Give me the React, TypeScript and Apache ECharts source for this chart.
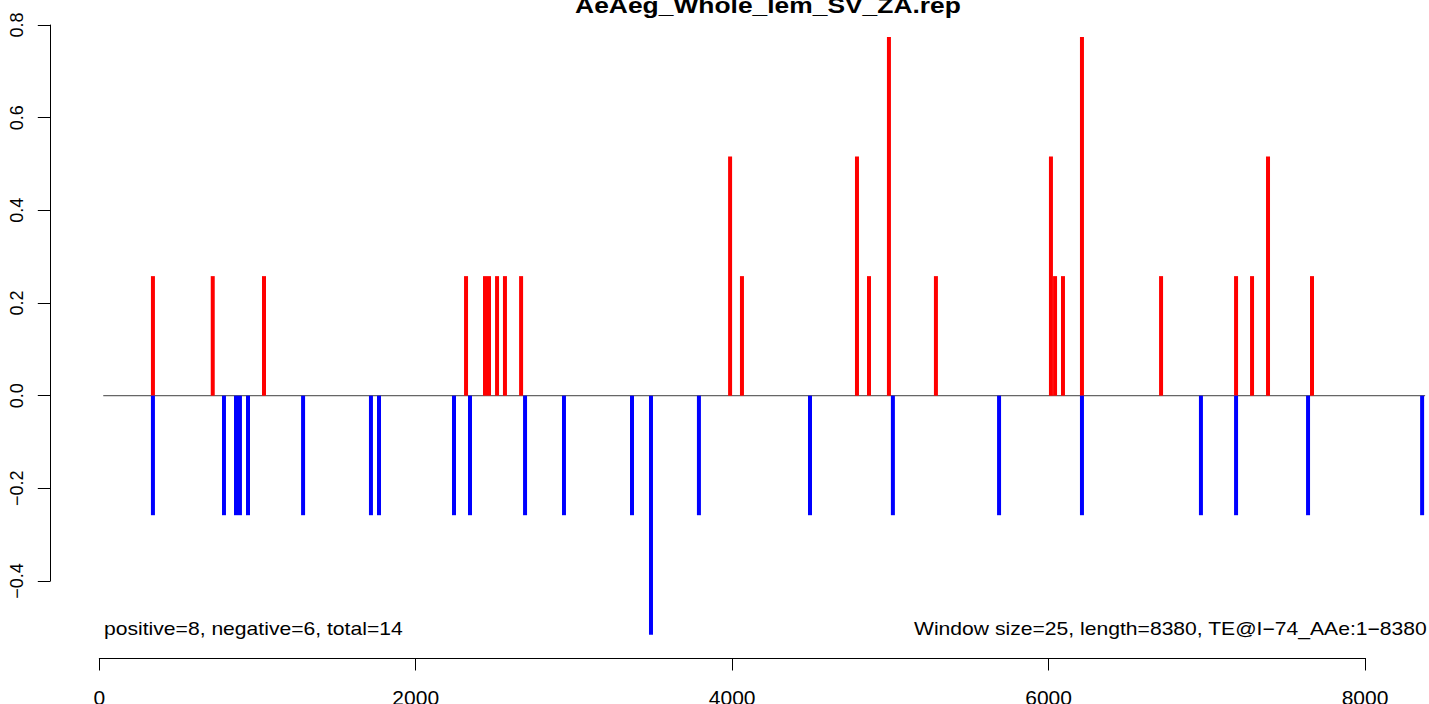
import React, { useEffect, useRef } from "react";
import * as echarts from "echarts";

const chartTitle = "AeAeg_Whole_lem_SV_ZA.rep";
const leftNote = "positive=8, negative=6, total=14";
const rightNote = "Window size=25, length=8380, TE@I\u221274_AAe:1\u22128380";

// window start / sequence length (zero line extent)
const lineStart = 25;
const seqLength = 8380;

// positive (red) windows
const posX = [339, 717, 1041, 2318, 2438, 2463, 2514, 2564, 2666, 3987, 4062, 4789, 4865, 4991, 5288, 6015, 6041, 6091, 6211, 6711, 7185, 7286, 7387, 7665];
const posY = [0.258, 0.258, 0.258, 0.258, 0.258, 0.258, 0.258, 0.258, 0.258, 0.516, 0.258, 0.516, 0.258, 0.774, 0.258, 0.516, 0.258, 0.258, 0.774, 0.258, 0.258, 0.258, 0.516, 0.258];

// negative (blue) windows
const negX = [339, 788, 864, 889, 940, 1288, 1717, 1768, 2242, 2343, 2691, 2937, 3367, 3487, 3790, 4492, 5016, 5687, 6211, 6963, 7185, 7640, 8361];
const negY = [-0.258, -0.258, -0.258, -0.258, -0.258, -0.258, -0.258, -0.258, -0.258, -0.258, -0.258, -0.258, -0.258, -0.516, -0.258, -0.258, -0.258, -0.258, -0.258, -0.258, -0.258, -0.258, -0.258];

const FONT = "'Liberation Sans', Arial, Helvetica, sans-serif";
const STRETCH = 1.174;

export default function App() {
  const ref = useRef<HTMLDivElement>(null);

  useEffect(() => {
    if (!ref.current) return;
    const chart = echarts.init(ref.current, null, { renderer: "svg" });

    const spike = (color: string) => (params: any, api: any) => {
      const x = api.value(0);
      const y = api.value(1);
      const p0 = api.coord([x, 0]);
      const p1 = api.coord([x, y]);
      return {
        type: "rect",
        shape: {
          x: p0[0] - 2,
          y: Math.min(p0[1], p1[1]),
          width: 4,
          height: Math.abs(p1[1] - p0[1]),
        },
        style: { fill: color },
      };
    };

    const zeroLine = (params: any, api: any) => {
      const a = api.coord([api.value(0), 0]);
      const b = api.coord([api.value(1), 0]);
      return {
        type: "line",
        shape: { x1: a[0], y1: a[1], x2: b[0], y2: b[1] },
        style: { stroke: "#666666", lineWidth: 1.2 },
      };
    };

    chart.setOption({
      animation: false,
      backgroundColor: "#ffffff",
      grid: {
        left: 99.3,
        top: 25,
        width: 1265.7,
        height: 556,
        containLabel: false,
        outerBoundsMode: "none",
      },
      xAxis: {
        type: "value",
        min: 0,
        max: 8000,
        interval: 2000,
        offset: 77,
        splitLine: { show: false },
        axisLine: { show: true, onZero: false, lineStyle: { color: "#000", width: 1 } },
        axisTick: { show: true, length: 12.5, lineStyle: { color: "#000", width: 1 } },
        axisLabel: {
          fontSize: 21,
          fontFamily: FONT,
          color: "#000",
          margin: 29,
          formatter: (v: number) => String(v),
        },
      },
      yAxis: {
        type: "value",
        min: -0.4,
        max: 0.8,
        interval: 0.2,
        offset: 49,
        splitLine: { show: false },
        axisLine: { show: true, onZero: false, lineStyle: { color: "#000", width: 1 } },
        axisTick: { show: true, length: 12.5, lineStyle: { color: "#000", width: 1 } },
        axisLabel: {
          fontSize: 18,
          fontFamily: FONT,
          color: "#000",
          rotate: 90,
          margin: 24,
          formatter: (v: number) => (v < -1e-9 ? "\u2212" : "") + Math.abs(v).toFixed(1),
        },
      },
      series: [
        {
          type: "custom",
          data: [[lineStart, seqLength]],
          renderItem: zeroLine,
          clip: false,
          silent: true,
          z: 1,
        },
        {
          type: "custom",
          data: posX.map((x, i) => [x, posY[i]]),
          renderItem: spike("#ff0000"),
          clip: false,
          z: 2,
        },
        {
          type: "custom",
          data: negX.map((x, i) => [x, negY[i]]),
          renderItem: spike("#0000ff"),
          clip: false,
          z: 2,
        },
      ],
      graphic: [
        {
          type: "text",
          x: 768,
          y: 5.7,
          scaleX: STRETCH,
          style: {
            text: chartTitle,
            fontSize: 22.5,
            fontWeight: "bold",
            fontFamily: FONT,
            fill: "#000",
            textAlign: "center",
            textVerticalAlign: "middle",
          },
        },
        {
          type: "text",
          x: 104,
          y: 628.3,
          scaleX: STRETCH,
          style: {
            text: leftNote,
            fontSize: 18,
            fontFamily: FONT,
            fill: "#000",
            textAlign: "left",
            textVerticalAlign: "middle",
          },
        },
        {
          type: "text",
          x: 914,
          y: 628.3,
          scaleX: STRETCH,
          style: {
            text: rightNote,
            fontSize: 18,
            fontFamily: FONT,
            fill: "#000",
            textAlign: "left",
            textVerticalAlign: "middle",
          },
        },
      ],
    });

    return () => chart.dispose();
  }, []);

  return (
    <div
      ref={ref}
      style={{ position: "absolute", left: 0, top: 0, width: 1429, height: 704, background: "#fff" }}
    />
  );
}
